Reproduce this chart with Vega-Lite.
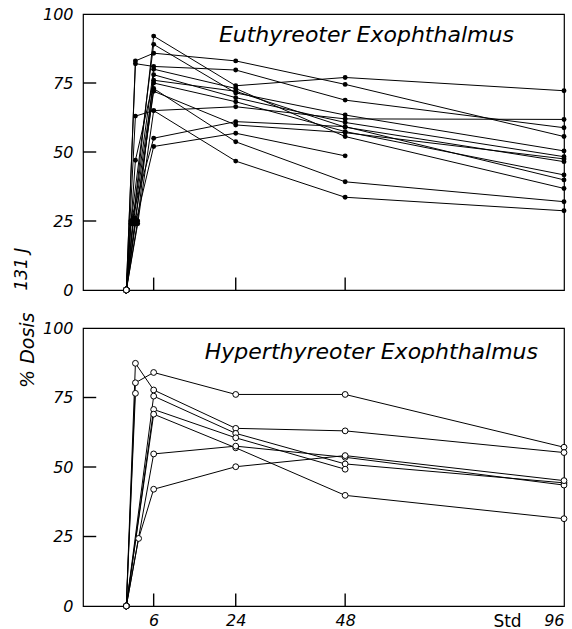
{
  "$schema": "https://vega.github.io/schema/vega-lite/v6.json",
  "autosize": {"type": "pad"},
  "padding": {"left": 11, "top": 5, "right": 0, "bottom": 0},
  "background": "white",
  "spacing": 38,
  "bounds": "flush",
  "config": {
    "font": "DejaVu Sans",
    "view": {"stroke": "black", "strokeWidth": 1.2},
    "axis": {
      "domain": false,
      "grid": false,
      "ticks": false,
      "labelColor": "black",
      "labelFont": "DejaVu Sans",
      "labelFontStyle": "italic",
      "labelFontSize": 16,
      "titleColor": "black",
      "titleFont": "DejaVu Sans",
      "titleFontWeight": "normal"
    }
  },
  "datasets": {
    "hourMarks": [{"h": 6}, {"h": 24}, {"h": 48}],
    "percentMarks": [{"v": 25}, {"v": 50}, {"v": 75}],
    "euthyreot": [
      {"s": "T1", "h": 0, "v": 0}, {"s": "T1", "h": 2, "v": 83}, {"s": "T1", "h": 6, "v": 85.8}, {"s": "T1", "h": 24, "v": 83}, {"s": "T1", "h": 48, "v": 74.5}, {"s": "T1", "h": 96, "v": 55.6},
      {"s": "T2", "h": 0, "v": 0}, {"s": "T2", "h": 2, "v": 82}, {"s": "T2", "h": 6, "v": 81}, {"s": "T2", "h": 24, "v": 79.7}, {"s": "T2", "h": 48, "v": 68.8}, {"s": "T2", "h": 96, "v": 58.8},
      {"s": "T3", "h": 0, "v": 0}, {"s": "T3", "h": 2, "v": 63}, {"s": "T3", "h": 6, "v": 65}, {"s": "T3", "h": 24, "v": 66.4}, {"s": "T3", "h": 48, "v": 62}, {"s": "T3", "h": 96, "v": 61.8},
      {"s": "T4", "h": 0, "v": 0}, {"s": "T4", "h": 2, "v": 47}, {"s": "T4", "h": 6, "v": 76}, {"s": "T4", "h": 24, "v": 72}, {"s": "T4", "h": 48, "v": 59}, {"s": "T4", "h": 96, "v": 46.5},
      {"s": "T5", "h": 0, "v": 0}, {"s": "T5", "h": 1.5, "v": 25}, {"s": "T5", "h": 6, "v": 92}, {"s": "T5", "h": 24, "v": 74}, {"s": "T5", "h": 48, "v": 77}, {"s": "T5", "h": 96, "v": 72.2},
      {"s": "T6", "h": 0, "v": 0}, {"s": "T6", "h": 1, "v": 24}, {"s": "T6", "h": 6, "v": 89}, {"s": "T6", "h": 24, "v": 71.4}, {"s": "T6", "h": 48, "v": 63.4}, {"s": "T6", "h": 96, "v": 50.4},
      {"s": "T7", "h": 0, "v": 0}, {"s": "T7", "h": 2.5, "v": 25}, {"s": "T7", "h": 6, "v": 78}, {"s": "T7", "h": 24, "v": 69.7}, {"s": "T7", "h": 48, "v": 60.7}, {"s": "T7", "h": 96, "v": 48.3},
      {"s": "T8", "h": 0, "v": 0}, {"s": "T8", "h": 1.5, "v": 24}, {"s": "T8", "h": 6, "v": 75}, {"s": "T8", "h": 24, "v": 68.2}, {"s": "T8", "h": 48, "v": 57.4}, {"s": "T8", "h": 96, "v": 41.7},
      {"s": "T9", "h": 0, "v": 0}, {"s": "T9", "h": 2, "v": 25}, {"s": "T9", "h": 6, "v": 73}, {"s": "T9", "h": 24, "v": 53.7}, {"s": "T9", "h": 48, "v": 39.2}, {"s": "T9", "h": 96, "v": 32},
      {"s": "T10", "h": 0, "v": 0}, {"s": "T10", "h": 2.5, "v": 24}, {"s": "T10", "h": 6, "v": 65}, {"s": "T10", "h": 24, "v": 46.7}, {"s": "T10", "h": 48, "v": 33.6}, {"s": "T10", "h": 96, "v": 28.7},
      {"s": "T11", "h": 0, "v": 0}, {"s": "T11", "h": 1, "v": 25}, {"s": "T11", "h": 6, "v": 55}, {"s": "T11", "h": 24, "v": 61}, {"s": "T11", "h": 48, "v": 59.2}, {"s": "T11", "h": 96, "v": 39.9},
      {"s": "T12", "h": 0, "v": 0}, {"s": "T12", "h": 2, "v": 24}, {"s": "T12", "h": 6, "v": 52}, {"s": "T12", "h": 24, "v": 56.8}, {"s": "T12", "h": 48, "v": 48.6},
      {"s": "T13", "h": 0, "v": 0}, {"s": "T13", "h": 1.5, "v": 26}, {"s": "T13", "h": 6, "v": 80}, {"s": "T13", "h": 24, "v": 73}, {"s": "T13", "h": 48, "v": 55.6}, {"s": "T13", "h": 96, "v": 36.8},
      {"s": "T14", "h": 0, "v": 0}, {"s": "T14", "h": 2, "v": 26}, {"s": "T14", "h": 6, "v": 72}, {"s": "T14", "h": 24, "v": 59.8}, {"s": "T14", "h": 48, "v": 57}, {"s": "T14", "h": 96, "v": 47.5}
    ],
    "hyperthyreot": [
      {"s": "H1", "h": 0, "v": 0}, {"s": "H1", "h": 2, "v": 80.3}, {"s": "H1", "h": 6, "v": 84}, {"s": "H1", "h": 24, "v": 76.1}, {"s": "H1", "h": 48, "v": 76.1}, {"s": "H1", "h": 96, "v": 57.1},
      {"s": "H2", "h": 0, "v": 0}, {"s": "H2", "h": 2, "v": 87.3}, {"s": "H2", "h": 6, "v": 77.7}, {"s": "H2", "h": 24, "v": 63.9}, {"s": "H2", "h": 48, "v": 63}, {"s": "H2", "h": 96, "v": 55.2},
      {"s": "H3", "h": 0, "v": 0}, {"s": "H3", "h": 2, "v": 76.5},
      {"s": "H4", "h": 0, "v": 0}, {"s": "H4", "h": 6, "v": 75.5}, {"s": "H4", "h": 24, "v": 62.1}, {"s": "H4", "h": 48, "v": 51.1}, {"s": "H4", "h": 96, "v": 44.3},
      {"s": "H5", "h": 0, "v": 0}, {"s": "H5", "h": 6, "v": 70.7}, {"s": "H5", "h": 24, "v": 60.5}, {"s": "H5", "h": 48, "v": 49.2},
      {"s": "H6", "h": 0, "v": 0}, {"s": "H6", "h": 6, "v": 69}, {"s": "H6", "h": 24, "v": 56.9}, {"s": "H6", "h": 48, "v": 39.8}, {"s": "H6", "h": 96, "v": 31.4},
      {"s": "H7", "h": 0, "v": 0}, {"s": "H7", "h": 6, "v": 54.7}, {"s": "H7", "h": 24, "v": 57.5}, {"s": "H7", "h": 48, "v": 53.5}, {"s": "H7", "h": 96, "v": 43.5},
      {"s": "H8", "h": 0, "v": 0}, {"s": "H8", "h": 2.7, "v": 24.3}, {"s": "H8", "h": 6, "v": 42}, {"s": "H8", "h": 24, "v": 50.1}, {"s": "H8", "h": 48, "v": 54.1}, {"s": "H8", "h": 96, "v": 45.1}
    ]
  },
  "vconcat": [
    {
      "width": 481,
      "height": 276,
      "layer": [
        {
          "data": {"name": "hourMarks"},
          "mark": {"type": "rule", "color": "black", "strokeWidth": 1.4},
          "encoding": {
            "x": {"field": "h", "type": "quantitative", "scale": {"domain": [-9.5, 96], "nice": false, "zero": false},
                  "axis": {"values": [6, 24, 48], "labels": false, "title": null}},
            "y": {"datum": 0, "type": "quantitative", "scale": {"domain": [0, 100], "nice": false},
                  "axis": {"values": [0, 25, 50, 75, 100], "labelPadding": 10,
                           "title": "131 J", "titleFontSize": 17, "titleFontStyle": "italic",
                           "titleAngle": 270, "titleAlign": "left", "titleBaseline": "alphabetic",
                           "titleX": -57, "titleY": 276}},
            "y2": {"datum": 4.5}
          }
        },
        {
          "data": {"name": "percentMarks"},
          "mark": {"type": "rule", "color": "black", "strokeWidth": 1.4},
          "encoding": {
            "y": {"field": "v", "type": "quantitative"},
            "x": {"datum": -9.5, "type": "quantitative"},
            "x2": {"datum": -6.6}
          }
        },
        {
          "data": {"name": "euthyreot"},
          "mark": {"type": "line", "color": "black", "strokeWidth": 1},
          "encoding": {
            "x": {"field": "h", "type": "quantitative"},
            "y": {"field": "v", "type": "quantitative"},
            "detail": {"field": "s"}
          }
        },
        {
          "data": {"name": "euthyreot"},
          "transform": [{"filter": "datum.h > 0"}],
          "mark": {"type": "circle", "color": "black", "opacity": 1, "size": 24},
          "encoding": {
            "x": {"field": "h", "type": "quantitative"},
            "y": {"field": "v", "type": "quantitative"}
          }
        },
        {
          "data": {"name": "euthyreot"},
          "transform": [{"filter": "datum.h === 0"}],
          "mark": {"type": "point", "shape": "circle", "filled": true, "fill": "white", "stroke": "black", "strokeWidth": 1, "opacity": 1, "size": 34},
          "encoding": {
            "x": {"field": "h", "type": "quantitative"},
            "y": {"field": "v", "type": "quantitative"}
          }
        },
        {
          "data": {"values": [{"caption": "Euthyreoter  Exophthalmus"}]},
          "mark": {"type": "text", "align": "right", "baseline": "middle", "fontSize": 22, "fontStyle": "italic", "color": "black"},
          "encoding": {
            "x": {"datum": 85, "type": "quantitative"},
            "y": {"datum": 92.4, "type": "quantitative"},
            "text": {"field": "caption"}
          }
        }
      ]
    },
    {
      "width": 481,
      "height": 278,
      "layer": [
        {
          "data": {"name": "hourMarks"},
          "mark": {"type": "rule", "color": "black", "strokeWidth": 1.4},
          "encoding": {
            "x": {"field": "h", "type": "quantitative", "scale": {"domain": [-9.5, 96], "nice": false, "zero": false},
                  "axis": {"values": [6, 24, 48, 96], "labelPadding": 6,
                           "title": "Std", "titleFontSize": 17, "titleFontStyle": "normal",
                           "titleX": 424, "titleY": 20, "titleAlign": "center", "titleBaseline": "alphabetic"}},
            "y": {"datum": 0, "type": "quantitative", "scale": {"domain": [0, 100], "nice": false},
                  "axis": {"values": [0, 25, 50, 75, 100], "labelPadding": 10,
                           "title": "% Dosis", "titleFontSize": 19, "titleFontStyle": "italic",
                           "titleAngle": 270, "titleAlign": "right", "titleBaseline": "alphabetic",
                           "titleX": -50, "titleY": -16}},
            "y2": {"datum": 4.5}
          }
        },
        {
          "data": {"name": "percentMarks"},
          "mark": {"type": "rule", "color": "black", "strokeWidth": 1.4},
          "encoding": {
            "y": {"field": "v", "type": "quantitative"},
            "x": {"datum": -9.5, "type": "quantitative"},
            "x2": {"datum": -6.6}
          }
        },
        {
          "data": {"name": "hyperthyreot"},
          "mark": {"type": "line", "color": "black", "strokeWidth": 1},
          "encoding": {
            "x": {"field": "h", "type": "quantitative"},
            "y": {"field": "v", "type": "quantitative"},
            "detail": {"field": "s"}
          }
        },
        {
          "data": {"name": "hyperthyreot"},
          "mark": {"type": "point", "shape": "circle", "filled": true, "fill": "white", "stroke": "black", "strokeWidth": 1, "opacity": 1, "size": 34},
          "encoding": {
            "x": {"field": "h", "type": "quantitative"},
            "y": {"field": "v", "type": "quantitative"}
          }
        },
        {
          "data": {"values": [{"caption": "Hyperthyreoter  Exophthalmus"}]},
          "mark": {"type": "text", "align": "right", "baseline": "middle", "fontSize": 22, "fontStyle": "italic", "color": "black"},
          "encoding": {
            "x": {"datum": 90.3, "type": "quantitative"},
            "y": {"datum": 91.5, "type": "quantitative"},
            "text": {"field": "caption"}
          }
        }
      ]
    }
  ]
}
